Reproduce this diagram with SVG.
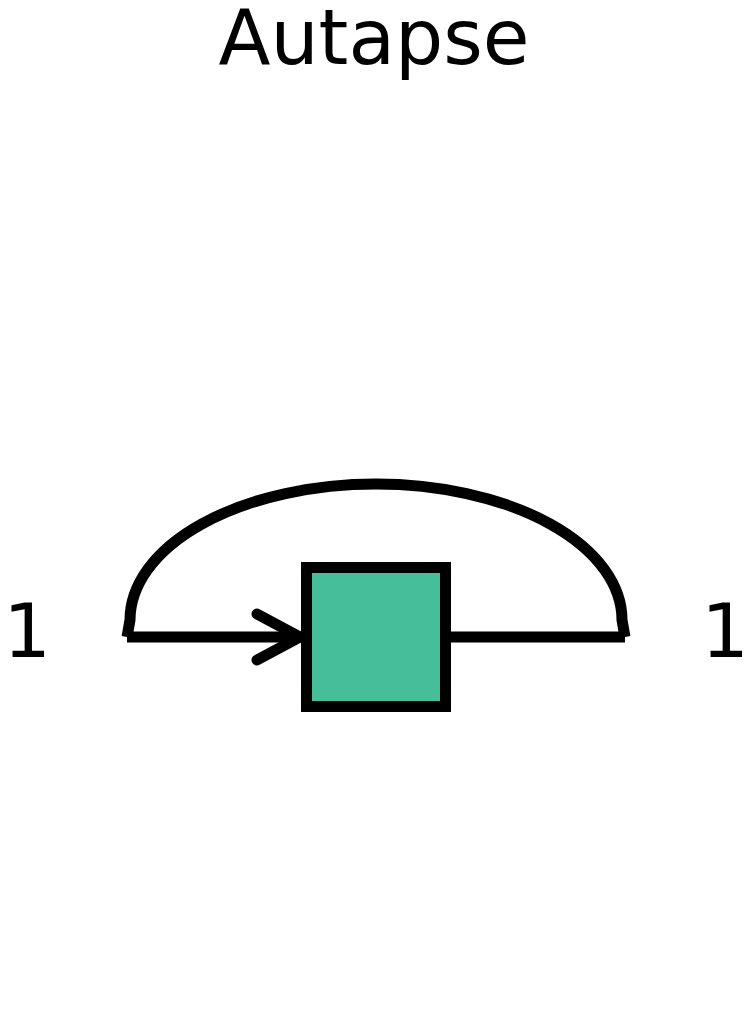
<svg xmlns="http://www.w3.org/2000/svg" width="751" height="1023" viewBox="0 0 751 1023">
<style>
text{font-family:"DejaVu Sans","Liberation Sans",sans-serif;fill:#000}
.title{font-size:76px}
.lbl{font-size:75px}
.edge{fill:none;stroke:#000;stroke-width:11}
.node{fill:#46be9a;stroke:#000;stroke-width:11}
</style>
<rect width="751" height="1023" fill="#fff"/>
<text class="title" x="374" y="64" text-anchor="middle">Autapse</text>
<g id="connectors">
<path class="edge" d="M127,637 L130,620 A246,136 0 0 1 622,620 L625,637"/>
<path class="edge" d="M127,637 L625,637"/>
<path class="edge" d="M257,614 L300,637 L257,660" stroke-linecap="round" stroke-linejoin="round"/>
</g>
<g id="node-neuron">
<rect class="node" x="306.5" y="567.5" width="139" height="139"/>
</g>
<g id="label-left"><text class="lbl" x="27" y="657" text-anchor="middle">1</text></g>
<g id="label-right"><text class="lbl" x="725" y="657" text-anchor="middle">1</text></g>
</svg>
